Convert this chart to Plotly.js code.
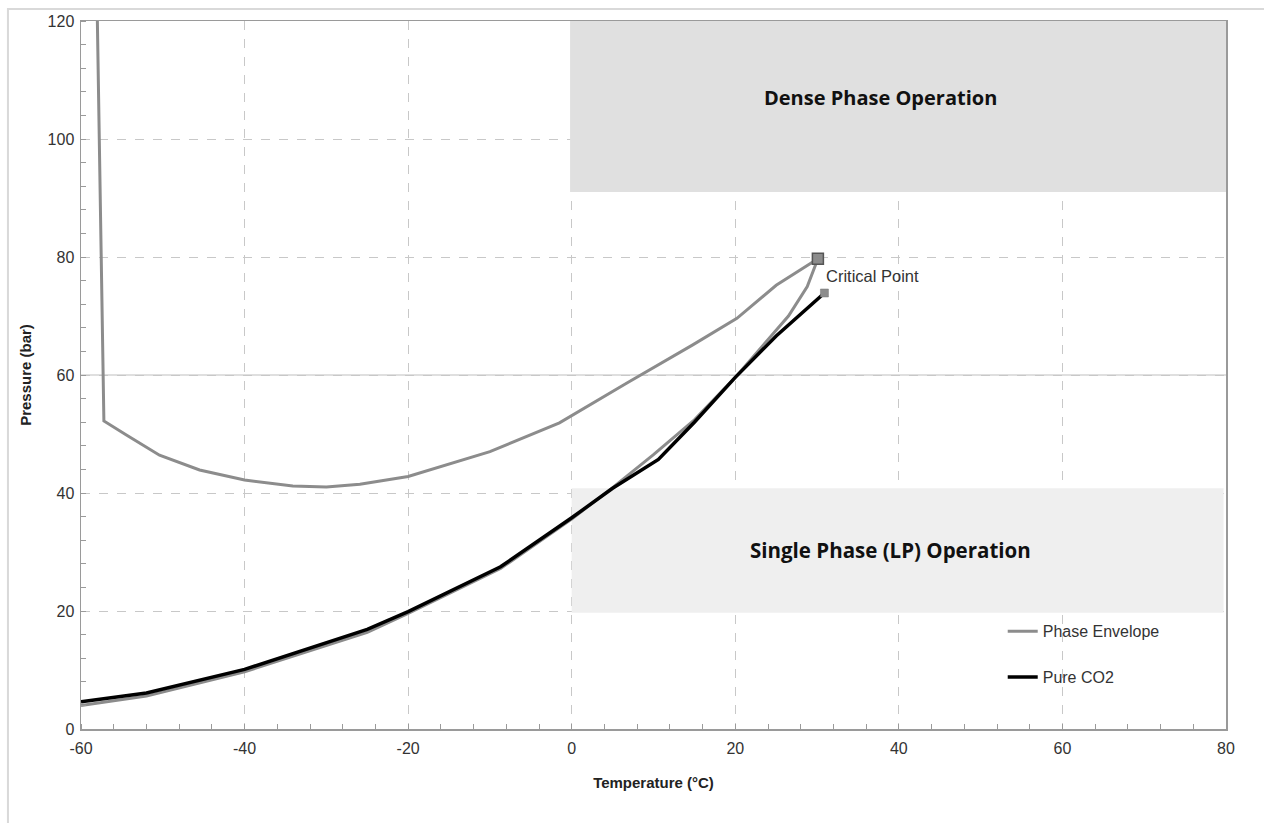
<!DOCTYPE html>
<html>
<head>
<meta charset="utf-8">
<script src="https://cdn.plot.ly/plotly-3.0.1.min.js"></script>
<style>html,body{margin:0;padding:0;background:#fff;}#chart{width:1264px;height:823px;}</style>
</head>
<body>
<div id="chart"></div>
<script>
// Phase envelope: dew side (top, vertical), upper curve to critical point, then lower branch
const envelopeT = [-58.0, -57.2, -54.4, -50.4, -45.5, -40, -34.1, -30, -25.9, -20, -10, -1.5, 6.7, 14.8, 20.2, 25.0, 30.1,
                   28.8, 26.5, 23.0, 20.0, 15.0, 10.0, 5.0, 0, -8.7, -20, -25, -40, -52, -60];
const envelopeP = [120, 52.2, 49.8, 46.4, 43.9, 42.2, 41.2, 41.0, 41.5, 42.8, 47.0, 51.9, 58.6, 65.1, 69.6, 75.2, 79.7,
                   75.0, 70.0, 64.5, 59.6, 52.4, 46.5, 40.9, 35.6, 27.2, 19.6, 16.4, 9.7, 5.6, 4.0];
// Pure CO2 vapour pressure line
const co2T = [-60, -52, -40, -25, -20, -8.7, 0, 5, 10.6, 15, 20, 25, 30.9];
const co2P = [4.6, 6.1, 10.1, 16.9, 19.9, 27.5, 35.8, 40.8, 45.7, 52.0, 59.6, 66.6, 73.9];
// Critical points
const critEnvT = [30.1], critEnvP = [79.7];
const critCo2T = [30.9], critCo2P = [73.9];
// Axis ticks
const xTickVals = [-60, -40, -20, 0, 20, 40, 60, 80];
const xTickText = ['-60', '-40', '-20', '0', '20', '40', '60', '80'];
const yTickVals = [0, 20, 40, 60, 80, 100, 120];
// Operating regions
const denseRegion = {t0: -0.2, t1: 80, p0: 91, p1: 120, label: 'Dense Phase Operation', labelT: 37.7, labelP: 107.1};
const lpRegion = {t0: 0, t1: 79.7, p0: 19.7, p1: 40.8, label: 'Single Phase (LP) Operation', labelT: 39.0, labelP: 30.3};

const traces = [
  {x: envelopeT, y: envelopeP, mode: 'lines', name: 'Phase Envelope', legendgroup: 'a',
   line: {color: '#8c8c8c', width: 3}},
  {x: co2T, y: co2P, mode: 'lines', name: 'Pure CO2', legendgroup: 'b',
   line: {color: '#000000', width: 3.5}},
  {x: critEnvT, y: critEnvP, mode: 'markers', showlegend: false,
   marker: {symbol: 'square', size: 11, color: '#8c8c8c', line: {color: '#555', width: 1.5}}},
  {x: critCo2T, y: critCo2P, mode: 'markers', showlegend: false,
   marker: {symbol: 'square', size: 8, color: '#8c8c8c', line: {color: '#777', width: 0.5}}}
];

const font = 'Liberation Sans, Arial, sans-serif';
const layout = {
  width: 1264, height: 823,
  margin: {l: 81, r: 38, t: 21, b: 94},
  paper_bgcolor: '#ffffff', plot_bgcolor: '#ffffff',
  font: {family: font, size: 16, color: '#333'},
  showlegend: true,
  legend: {x: 0.805, y: 0.162, xanchor: 'left', yanchor: 'top', bgcolor: 'rgba(0,0,0,0)',
           font: {family: font, size: 16, color: '#333'}, tracegroupgap: 22, traceorder: 'grouped'},
  xaxis: {range: [-60, 80], tickvals: xTickVals, ticktext: xTickText, showgrid: true, gridcolor: '#c8c8c8', griddash: 'dash', gridwidth: 1,
          zeroline: false, showline: true, linecolor: '#9a9a9a', linewidth: 1.5, mirror: true, ticks: '',
          ticklabelstandoff: 4,
          tickfont: {family: font, size: 16, color: '#333'},
          minor: {dtick: 4, tick0: -60, ticks: 'inside', ticklen: 5, tickcolor: '#9a9a9a', showgrid: false},
          title: {text: '<b>Temperature (°C)</b>', font: {family: font, size: 15, color: '#222'}, standoff: 22}},
  yaxis: {range: [0, 120], tickvals: yTickVals, showgrid: true, gridcolor: '#c8c8c8', griddash: 'dash', gridwidth: 1,
          zeroline: false, showline: true, linecolor: '#9a9a9a', linewidth: 1.5, mirror: true, ticks: '',
          ticklabelstandoff: 2,
          tickfont: {family: font, size: 16, color: '#333'},
          minor: {dtick: 4, tick0: 0, ticks: 'inside', ticklen: 5, tickcolor: '#9a9a9a', showgrid: false},
          title: {text: '<b>Pressure (bar)</b>', font: {family: font, size: 15, color: '#222'}, standoff: 12}},
  shapes: [
    {type: 'rect', xref: 'paper', yref: 'paper', x0: -0.0638, x1: 1.2, y0: -0.3, y1: 1.017,
     line: {color: '#d9d9d9', width: 2}, fillcolor: 'rgba(0,0,0,0)', layer: 'below'},
    {type: 'line', xref: 'paper', yref: 'y', x0: 0, x1: 1, y0: 60, y1: 60,
     line: {color: '#d4d4d4', width: 1.5}, layer: 'between'},
    {type: 'rect', xref: 'x', yref: 'y', x0: denseRegion.t0, x1: denseRegion.t1, y0: denseRegion.p0, y1: denseRegion.p1,
     fillcolor: '#e0e0e0', line: {width: 0}, layer: 'between'},
    {type: 'rect', xref: 'x', yref: 'y', x0: lpRegion.t0, x1: lpRegion.t1, y0: lpRegion.p0, y1: lpRegion.p1,
     fillcolor: '#efefef', line: {width: 0}, layer: 'between'}
  ],
  annotations: [
    {x: denseRegion.labelT, y: denseRegion.labelP, xref: 'x', yref: 'y', text: '<b>' + denseRegion.label + '</b>',
     showarrow: false, font: {family: 'Open Sans, sans-serif', size: 20, color: '#111'}},
    {x: lpRegion.labelT, y: lpRegion.labelP, xref: 'x', yref: 'y', text: '<b>' + lpRegion.label + '</b>',
     showarrow: false, font: {family: 'Open Sans, sans-serif', size: 20.5, color: '#111'}},
    {x: critCo2T[0], y: 76.8, xref: 'x', yref: 'y', text: 'Critical Point', xanchor: 'left', yanchor: 'middle',
     showarrow: false, font: {family: font, size: 16.5, color: '#333'}}
  ]
};

Plotly.newPlot('chart', traces, layout, {displayModeBar: false, staticPlot: true});
</script>
</body>
</html>
